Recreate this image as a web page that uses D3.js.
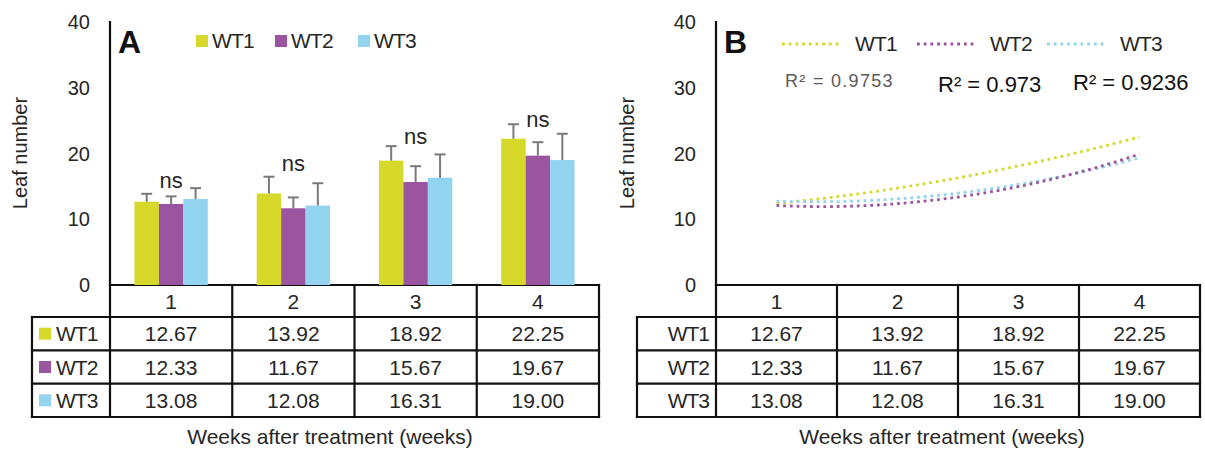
<!DOCTYPE html>
<html><head><meta charset="utf-8">
<script src="https://cdn.jsdelivr.net/npm/d3@7"></script>
<style>
body{margin:0;background:#fff;}
svg{display:block;font-family:"Liberation Sans",Arial,sans-serif;}
</style>
</head><body>
<svg id="c" width="1205" height="455"></svg>
<script>
// ---------- data ----------
const weeks = [1, 2, 3, 4];
const weekLabels = ["1", "2", "3", "4"];
const seriesNames = ["WT1", "WT2", "WT3"];
const wt1 = [12.67, 13.92, 18.92, 22.25];
const wt2 = [12.33, 11.67, 15.67, 19.67];
const wt3 = [13.08, 12.08, 16.31, 19.00];
const err1 = [1.2, 2.55, 2.2, 2.2];
const err2 = [1.15, 1.65, 2.4, 2.05];
const err3 = [1.65, 3.4, 3.55, 4.0];
const nsLabels = ["ns", "ns", "ns", "ns"];
const nsLevel = [14.7, 17.4, 21.4, 24.1];
const yTicks = [0, 10, 20, 30, 40];
const r2Labels = ["R² = 0.9753", "R² = 0.973", "R² = 0.9236"];
const colors = ["#d6d92a", "#9b55a0", "#92d3f0"];
const yTitle = "Leaf number";
const xTitle = "Weeks after treatment (weeks)";

const values = [wt1, wt2, wt3];
const errs = [err1, err2, err3];
const fmt = d3.format(".2f");

const svg = d3.select("#c");
const y = d3.scaleLinear().domain([0, 40]).range([285, 22]);
const rowY = d3.scaleBand().domain(seriesNames).range([317, 417]);
const LINE = "#111";

function panel(opts) {
  const g = svg.append("g");
  const x0 = opts.x0, x1 = opts.x1, tl = opts.tableLeft;
  const col = d3.scaleBand().domain(weekLabels).range([x0, x1]);

  g.selectAll("text.yt").data(yTicks).join("text")
    .attr("x", x0 - 20).attr("y", d => y(d)).attr("dy", "0.36em")
    .attr("text-anchor", "end").attr("font-size", 20).attr("fill", "#262626")
    .text(d => d);
  g.append("text").attr("transform", `translate(${opts.yTitleX},153) rotate(-90)`)
    .attr("text-anchor", "middle").attr("dy", "0.35em").attr("font-size", 20)
    .attr("fill", "#262626").text(yTitle);

  const lines = [];
  lines.push([x0, y(40), x0, 417]);
  lines.push([x0, 285, x1, 285]);
  lines.push([tl, rowY("WT1"), x1, rowY("WT1")]);
  seriesNames.forEach(s => lines.push([tl, rowY(s) + rowY.bandwidth(), x1, rowY(s) + rowY.bandwidth()]));
  lines.push([tl, 317, tl, 417]);
  weekLabels.forEach(w => lines.push([col(w) + col.bandwidth(), 285, col(w) + col.bandwidth(), 417]));
  g.selectAll("line.grid").data(lines).join("line")
    .attr("x1", d => d[0]).attr("y1", d => d[1]).attr("x2", d => d[2]).attr("y2", d => d[3])
    .attr("stroke", LINE).attr("stroke-width", 2.2).attr("stroke-linecap", "square");

  g.selectAll("text.hd").data(weekLabels).join("text")
    .attr("x", d => col(d) + col.bandwidth() / 2).attr("y", 301).attr("dy", "0.36em")
    .attr("text-anchor", "middle").attr("font-size", 21).attr("fill", "#262626").text(d => d);
  seriesNames.forEach((s, si) => {
    const cy = rowY(s) + rowY.bandwidth() / 2;
    g.selectAll(null).data(values[si]).join("text")
      .attr("x", (d, i) => col(weekLabels[i]) + col.bandwidth() / 2).attr("y", cy).attr("dy", "0.36em")
      .attr("text-anchor", "middle").attr("font-size", 21).attr("fill", "#262626").text(d => fmt(d));
    if (opts.swatches) {
      g.append("rect").attr("x", tl + 7).attr("y", cy - 6).attr("width", 12).attr("height", 12).attr("fill", colors[si]);
      g.append("text").attr("x", tl + 24).attr("y", cy).attr("dy", "0.36em")
        .attr("font-size", 21).attr("letter-spacing", -1).attr("fill", "#262626").text(s);
    } else {
      g.append("text").attr("x", x0 - 7).attr("y", cy).attr("dy", "0.36em").attr("text-anchor", "end")
        .attr("font-size", 21).attr("letter-spacing", -1).attr("fill", "#262626").text(s);
    }
  });
  g.append("text").attr("x", opts.xTitleX).attr("y", 444).attr("text-anchor", "middle")
    .attr("font-size", 21).attr("fill", "#262626").text(xTitle);
  g.append("text").attr("x", x0 + 8).attr("y", 53).attr("font-size", 32).attr("font-weight", "bold")
    .attr("fill", "#111").text(opts.letter);
  return {g, col};
}

// ---------- Panel A ----------
const A = panel({x0: 110, x1: 599, tableLeft: 32, yTitleX: 20, xTitleX: 330, letter: "A", swatches: true});
const xg = d3.scaleBand().domain(weekLabels).range([110, 599]).paddingInner(0.4).paddingOuter(0.2);
const xs = d3.scaleBand().domain(seriesNames).range([0, xg.bandwidth()]);
const barData = [];
seriesNames.forEach((s, si) => weekLabels.forEach((w, wi) =>
  barData.push({s, si, w, v: values[si][wi], e: errs[si][wi]})));
A.g.selectAll("rect.bar").data(barData).join("rect")
  .attr("x", d => xg(d.w) + xs(d.s)).attr("width", xs.bandwidth())
  .attr("y", d => y(d.v)).attr("height", d => y(0) - y(d.v)).attr("fill", d => colors[d.si]);
A.g.selectAll("line.err").data(barData).join("line")
  .attr("x1", d => xg(d.w) + xs(d.s) + xs.bandwidth() / 2).attr("x2", d => xg(d.w) + xs(d.s) + xs.bandwidth() / 2)
  .attr("y1", d => y(d.v)).attr("y2", d => y(d.v + d.e)).attr("stroke", "#7a7a7a").attr("stroke-width", 2);
A.g.selectAll("line.cap").data(barData).join("line")
  .attr("x1", d => xg(d.w) + xs(d.s) + xs.bandwidth() / 2 - 5.5).attr("x2", d => xg(d.w) + xs(d.s) + xs.bandwidth() / 2 + 5.5)
  .attr("y1", d => y(d.v + d.e)).attr("y2", d => y(d.v + d.e)).attr("stroke", "#7a7a7a").attr("stroke-width", 2);
A.g.selectAll("text.ns").data(nsLabels).join("text")
  .attr("x", (d, i) => xg(weekLabels[i]) + xg.bandwidth() / 2).attr("y", (d, i) => y(nsLevel[i]))
  .attr("text-anchor", "middle").attr("font-size", 22).attr("fill", "#262626").text(d => d);
const legA = [196, 275, 358];
seriesNames.forEach((s, i) => {
  A.g.append("rect").attr("x", legA[i]).attr("y", 35).attr("width", 12).attr("height", 12).attr("fill", colors[i]);
  A.g.append("text").attr("x", legA[i] + 16).attr("y", 48).attr("font-size", 21)
    .attr("letter-spacing", -0.8).attr("fill", "#262626").text(s);
});

// ---------- Panel B ----------
const B = panel({x0: 716, x1: 1200, tableLeft: 637, yTitleX: 627, xTitleX: 942, letter: "B", swatches: false});
const xl = d3.scaleLinear().domain([0.5, 4.5]).range([716, 1200]);
// quadratic least-squares trendline computed from the data
function quadFit(xv, yv) {
  const S = k => d3.sum(xv, x => Math.pow(x, k));
  const T = k => d3.sum(xv, (x, i) => Math.pow(x, k) * yv[i]);
  const M = [[S(0), S(1), S(2), T(0)], [S(1), S(2), S(3), T(1)], [S(2), S(3), S(4), T(2)]];
  for (let i = 0; i < 3; i++) {
    for (let j = i + 1; j < 3; j++) {
      const f = M[j][i] / M[i][i];
      for (let k = i; k < 4; k++) M[j][k] -= f * M[i][k];
    }
  }
  const c = [0, 0, 0];
  for (let i = 2; i >= 0; i--) {
    let s = M[i][3];
    for (let k = i + 1; k < 3; k++) s -= M[i][k] * c[k];
    c[i] = s / M[i][i];
  }
  return x => c[0] + c[1] * x + c[2] * x * x;
}
const grid = d3.range(weeks[0], weeks[weeks.length - 1] + 1e-9, 0.02);
const line = d3.line().x(d => xl(d[0])).y(d => y(d[1]));
const drawOrder = [0, 2, 1];
drawOrder.forEach(si => {
  const f = quadFit(weeks, values[si]);
  B.g.append("path").attr("d", line(grid.map(x => [x, f(x)])))
    .attr("fill", "none").attr("stroke", colors[si]).attr("stroke-width", 2.8)
    .attr("stroke-dasharray", "2.8,3.9");
});
const legB = [782, 917, 1047];
seriesNames.forEach((s, i) => {
  B.g.append("line").attr("x1", legB[i]).attr("x2", legB[i] + 60).attr("y1", 44).attr("y2", 44)
    .attr("stroke", colors[i]).attr("stroke-width", 2.8).attr("stroke-dasharray", "2.8,3.9");
  B.g.append("text").attr("x", legB[i] + 73).attr("y", 51).attr("font-size", 21)
    .attr("letter-spacing", -0.8).attr("fill", "#262626").text(s);
});
const r2Pos = [[785, 87, 18, "#5a5a5a", 1.3], [938, 92, 22, "#111", 0], [1073, 90, 22, "#111", 0]];
r2Labels.forEach((t, i) => {
  B.g.append("text").attr("x", r2Pos[i][0]).attr("y", r2Pos[i][1]).attr("font-size", r2Pos[i][2])
    .attr("letter-spacing", r2Pos[i][4]).attr("fill", r2Pos[i][3]).text(t);
});
</script>
</body></html>
